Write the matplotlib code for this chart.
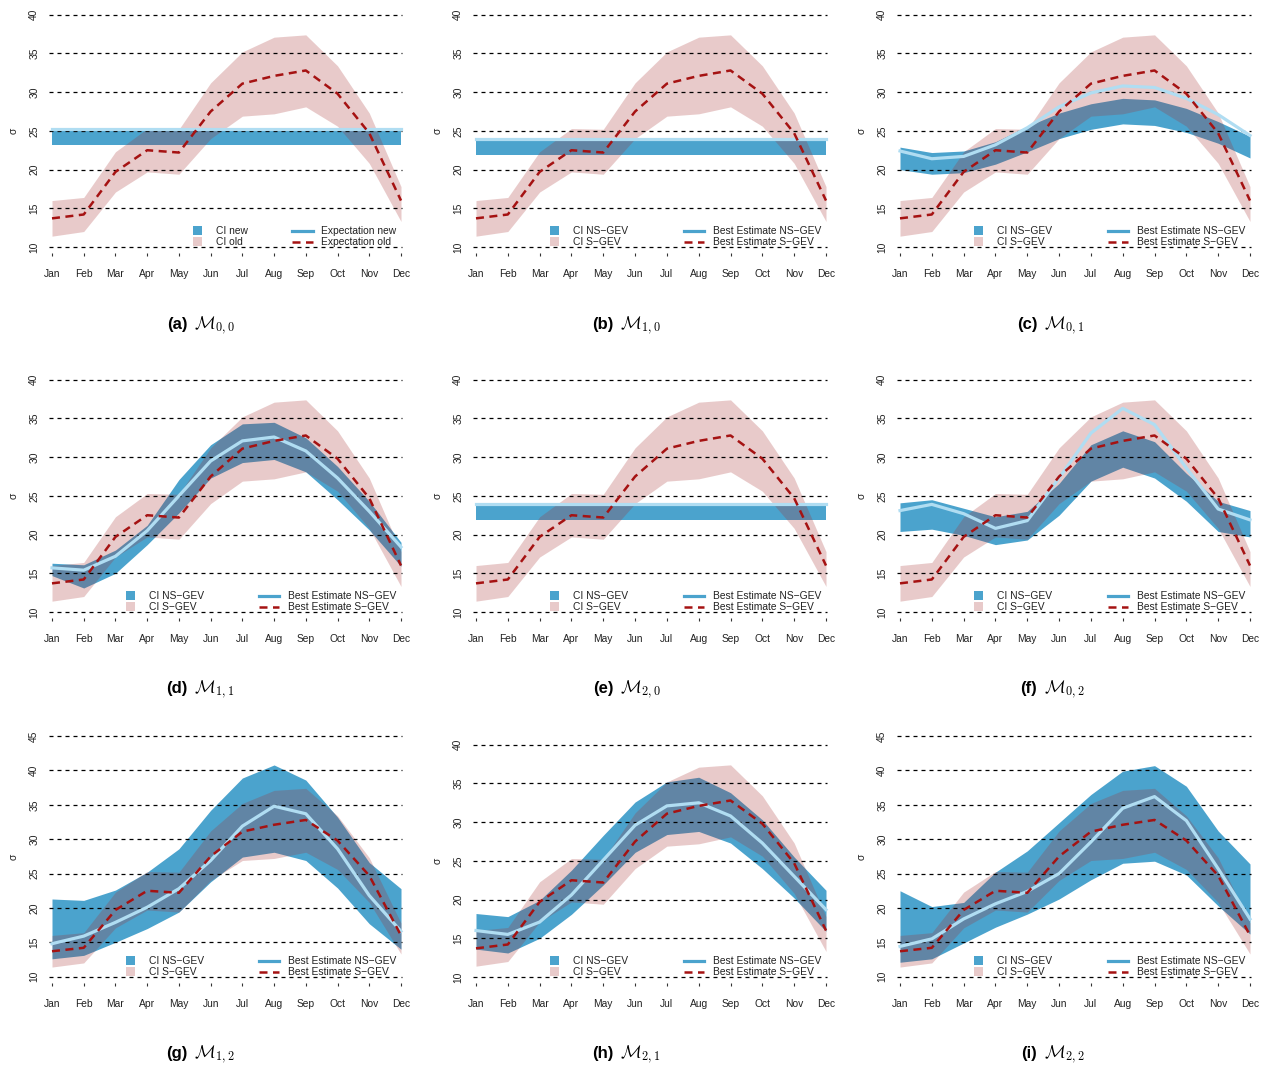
import numpy as np
import matplotlib
matplotlib.use('Agg')
import matplotlib.pyplot as plt
from matplotlib.patches import Patch
from matplotlib.lines import Line2D

plt.rcParams['font.family'] = ['Liberation Sans', 'DejaVu Sans']

months = ['Jan', 'Feb', 'Mar', 'Apr', 'May', 'Jun', 'Jul', 'Aug', 'Sep', 'Oct', 'Nov', 'Dec']

# stationary GEV (same in every panel)
s_best = [13.7, 14.2, 19.7, 22.5, 22.2, 27.5, 31.1, 32.1, 32.8, 29.8, 24.7, 16.0]
s_lo = [11.4, 12.0, 17.1, 19.7, 19.4, 24.0, 26.9, 27.2, 28.1, 25.6, 20.8, 13.3]
s_hi = [16.0, 16.4, 22.3, 25.3, 25.2, 31.2, 35.2, 37.1, 37.4, 33.4, 27.3, 17.8]

# non-stationary GEV, one set per model
ns_lo_a = [23.2, 23.2, 23.2, 23.2, 23.2, 23.2, 23.2, 23.2, 23.2, 23.2, 23.2, 23.2]
ns_hi_a = [25.0, 25.0, 25.0, 25.0, 25.0, 25.0, 25.0, 25.0, 25.0, 25.0, 25.0, 25.0]
ns_best_a = [25.25, 25.25, 25.25, 25.25, 25.25, 25.25, 25.25, 25.25, 25.25, 25.25, 25.25, 25.25]

ns_lo_b = [21.85, 21.85, 21.85, 21.85, 21.85, 21.85, 21.85, 21.85, 21.85, 21.85, 21.85, 21.85]
ns_hi_b = [23.75, 23.75, 23.75, 23.75, 23.75, 23.75, 23.75, 23.75, 23.75, 23.75, 23.75, 23.75]
ns_best_b = [23.95, 23.95, 23.95, 23.95, 23.95, 23.95, 23.95, 23.95, 23.95, 23.95, 23.95, 23.95]

ns_lo_c = [20.0, 19.4, 19.6, 20.7, 22.3, 24.0, 25.2, 25.9, 25.7, 24.8, 23.4, 21.5]
ns_hi_c = [22.9, 22.2, 22.4, 23.6, 25.6, 27.3, 28.5, 29.2, 29.0, 27.9, 26.2, 24.3]
ns_best_c = [22.4, 21.4, 21.7, 23.2, 25.4, 28.1, 29.9, 30.8, 30.6, 29.2, 27.1, 24.4]

ns_lo_d = [14.7, 13.1, 15.0, 18.7, 22.8, 27.3, 29.3, 29.7, 28.1, 24.5, 20.6, 15.9]
ns_hi_d = [16.3, 16.1, 18.0, 21.2, 27.1, 31.6, 34.3, 34.5, 32.5, 28.8, 24.3, 19.0]
ns_best_d = [15.7, 15.4, 17.2, 20.5, 25.0, 29.5, 32.1, 32.6, 30.8, 27.3, 23.0, 18.4]

ns_lo_e = [21.85, 21.85, 21.85, 21.85, 21.85, 21.85, 21.85, 21.85, 21.85, 21.85, 21.85, 21.85]
ns_hi_e = [23.75, 23.75, 23.75, 23.75, 23.75, 23.75, 23.75, 23.75, 23.75, 23.75, 23.75, 23.75]
ns_best_e = [23.95, 23.95, 23.95, 23.95, 23.95, 23.95, 23.95, 23.95, 23.95, 23.95, 23.95, 23.95]

ns_lo_f = [20.4, 20.7, 19.9, 18.7, 19.3, 22.5, 26.9, 28.7, 27.3, 24.3, 20.4, 19.7]
ns_hi_f = [24.1, 24.5, 23.4, 22.3, 23.0, 26.6, 31.6, 33.4, 32.0, 27.9, 24.3, 23.1]
ns_best_f = [23.1, 23.9, 22.7, 20.8, 21.8, 27.3, 33.1, 36.3, 34.2, 28.6, 23.3, 21.9]

ns_lo_g = [12.6, 13.1, 15.0, 17.0, 19.4, 23.8, 27.4, 28.1, 26.9, 22.9, 17.7, 14.0]
ns_hi_g = [21.3, 21.1, 22.6, 25.2, 28.6, 34.2, 38.9, 40.8, 38.6, 33.2, 26.6, 22.8]
ns_best_g = [14.8, 15.9, 17.9, 20.1, 22.8, 26.9, 31.9, 34.8, 33.7, 28.6, 21.8, 16.6]

ns_lo_h = [13.6, 13.1, 15.0, 18.1, 21.9, 26.1, 28.4, 28.8, 27.3, 24.0, 20.2, 15.9]
ns_hi_h = [18.2, 17.8, 19.9, 23.8, 28.3, 32.6, 35.2, 35.8, 33.8, 30.3, 25.5, 21.2]
ns_best_h = [16.0, 15.5, 17.1, 20.6, 25.1, 29.6, 32.1, 32.5, 30.8, 27.3, 23.0, 18.7]

ns_lo_i = [12.1, 12.6, 14.9, 17.2, 19.1, 21.3, 24.1, 26.5, 26.8, 24.8, 20.3, 16.2]
ns_hi_i = [22.5, 20.2, 20.8, 25.2, 28.3, 32.4, 36.5, 39.9, 40.7, 37.7, 31.2, 26.4]
ns_best_i = [14.4, 15.5, 18.4, 20.6, 22.4, 25.0, 29.6, 34.5, 36.2, 32.7, 25.7, 18.4]

labels_old = ['CI new', 'CI old', 'Expectation new', 'Expectation old']
labels_gev = ['CI NS\u2212GEV', 'CI S\u2212GEV', 'Best Estimate NS\u2212GEV', 'Best Estimate S\u2212GEV']
tags = ['(a)', '(b)', '(c)', '(d)', '(e)', '(f)', '(g)', '(h)', '(i)']
models = [r'$\mathcal{M}_{0,0}$', r'$\mathcal{M}_{1,0}$', r'$\mathcal{M}_{0,1}$',
          r'$\mathcal{M}_{1,1}$', r'$\mathcal{M}_{2,0}$', r'$\mathcal{M}_{0,2}$',
          r'$\mathcal{M}_{1,2}$', r'$\mathcal{M}_{2,1}$', r'$\mathcal{M}_{2,2}$']

BLUE = '#4BA3CD'
LIGHT = '#B0DDF2'
PINK = (0.65, 0.18, 0.18, 0.25)
RED = '#A51212'
TXT = '#222222'

W, H = 1268, 1068
fig = plt.figure(figsize=(W / 100, H / 100), dpi=100)

jan_px = [52, 476, 900]
dec_px = [401, 826, 1250]
row_bottom = [256.3, 621.3, 986.3]
cap_x = [206, 632, 1056]
cap_base = [329, 693.5, 1058]
x = np.arange(1, 13)

panels = [
    (ns_lo_a, ns_hi_a, ns_best_a, labels_old, 40),
    (ns_lo_b, ns_hi_b, ns_best_b, labels_gev, 40),
    (ns_lo_c, ns_hi_c, ns_best_c, labels_gev, 40),
    (ns_lo_d, ns_hi_d, ns_best_d, labels_gev, 40),
    (ns_lo_e, ns_hi_e, ns_best_e, labels_gev, 40),
    (ns_lo_f, ns_hi_f, ns_best_f, labels_gev, 40),
    (ns_lo_g, ns_hi_g, ns_best_g, labels_gev, 45),
    (ns_lo_h, ns_hi_h, ns_best_h, labels_gev, 40),
    (ns_lo_i, ns_hi_i, ns_best_i, labels_gev, 45),
]

for k, (lo, hi, best, labs, ymax) in enumerate(panels):
    r, c = divmod(k, 3)
    ppm = (dec_px[c] - jan_px[c]) / 11
    left = jan_px[c] - 0.3 * ppm
    width = 11.6 * ppm
    pad = 0.04 * (ymax - 10)
    ylo, yhi = 10 - pad, ymax + pad
    ppu = 7.743 if ymax == 40 else 6.874
    height = (yhi - ylo) * ppu
    bottom = row_bottom[r]
    ax = fig.add_axes([left / W, (H - bottom) / H, width / W, height / H])
    ax.set_xlim(0.7, 12.3)
    ax.set_ylim(ylo, yhi)
    for s in ax.spines.values():
        s.set_visible(False)

    ax.fill_between(x, lo, hi, color=BLUE, lw=0, zorder=1)
    ax.fill_between(x, s_lo, s_hi, color=PINK, lw=0, zorder=2)
    yt = np.arange(10, ymax + 1, 5)
    ax.hlines(yt, 0.92, 12.03, colors='black', linestyles=(0, (3.2, 3.2)), lw=0.9, zorder=3)
    ax.plot(x, best, color=LIGHT, lw=2.3, zorder=4, solid_joinstyle='round')
    ax.plot(x, s_best, color=RED, lw=1.8, ls=(0, (3.2, 2.2)), zorder=5)

    ax.set_xticks(x)
    ax.set_xticklabels(months)
    ax.set_yticks(yt)
    ax.set_yticklabels([str(v) for v in yt])
    ax.tick_params(axis='x', direction='in', length=2.4, width=0.8, color='#333333',
                   labelsize=7.4, labelcolor=TXT, pad=9)
    ax.tick_params(axis='y', length=0, labelsize=7.4, labelcolor=TXT, pad=2.3,
                   labelrotation=90)
    for t in ax.get_yticklabels():
        t.set_va('center')
    sig_px = jan_px[c] - 38
    ax.text((sig_px - left) / width, 0.5, '\u03c3', transform=ax.transAxes, rotation=90,
            ha='center', va='center', fontsize=7.4, color=TXT)

    # legend: fills on the left, lines on the right
    yf = 19.6 / height
    start = 5.43 if labs is labels_old else 3.32
    h1 = [Patch(facecolor=BLUE, lw=0), Patch(facecolor=PINK, lw=0)]
    leg1 = ax.legend(h1, labs[:2], loc='center left',
                     bbox_to_anchor=((start - 0.7) / 11.6, yf), frameon=False,
                     fontsize=7.4, borderpad=0, borderaxespad=0, labelspacing=0.1,
                     handlelength=0.9, handleheight=0.9, handletextpad=1.4)
    for t in leg1.get_texts():
        t.set_color(TXT)
    ax.add_artist(leg1)
    h2 = [Line2D([], [], color=BLUE, lw=2.3),
          Line2D([], [], color=RED, lw=1.8, ls=(0, (3.2, 2.2)))]
    leg2 = ax.legend(h2, labs[2:], loc='center right',
                     bbox_to_anchor=((11.86 - 0.7) / 11.6, yf), frameon=False,
                     fontsize=7.4, borderpad=0, borderaxespad=0, labelspacing=0.1,
                     handlelength=2.0, handletextpad=0.85)
    for t in leg2.get_texts():
        t.set_color(TXT)

    yb = 1 - cap_base[r] / H
    fig.text((cap_x[c] - 18.7) / W, yb, tags[k], ha='right', va='baseline',
             fontsize=12, fontweight='bold', color='black')
    fig.text((cap_x[c] - 12.5) / W, yb, models[k], ha='left', va='baseline',
             fontsize=12.5, math_fontfamily='cm', color='black')

fig.savefig('out.png', dpi=100)
